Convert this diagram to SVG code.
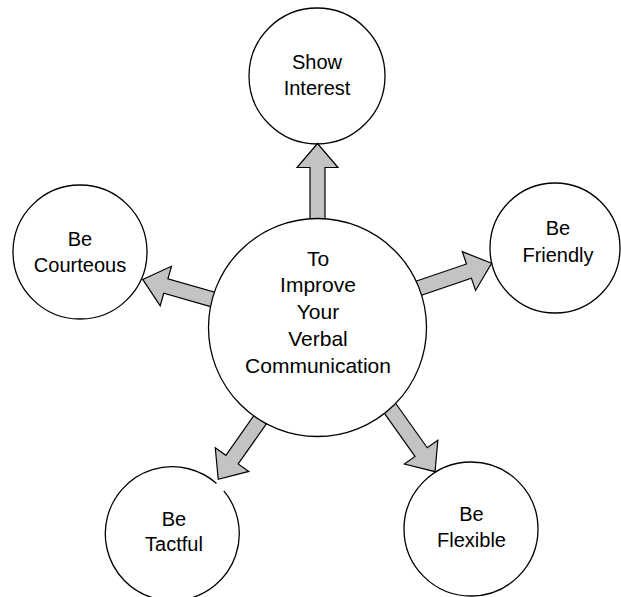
<svg xmlns="http://www.w3.org/2000/svg" width="621" height="597" viewBox="0 0 621 597">
<style>
.node{fill:#ffffff;stroke:#000000;stroke-width:1.3}
.arc{fill:none;stroke:#000000;stroke-width:1.3}
.arrow{fill:#c3c3c3;stroke:#000000;stroke-width:1.2;stroke-linejoin:miter}
.t{font-family:"Liberation Sans",Arial,sans-serif;font-size:20px;fill:#000000;text-anchor:middle}
.tc{font-family:"Liberation Sans",Arial,sans-serif;font-size:21px;fill:#000000;text-anchor:middle}
</style>
<rect width="621" height="597" fill="#ffffff"/>
<g id="show-interest">
<circle class="node" cx="317" cy="76" r="68"/>
<text class="t" x="317" y="68.5">Show</text>
<text class="t" x="317" y="94.5">Interest</text>
</g>
<g id="be-courteous">
<circle class="node" cx="80" cy="252" r="67"/>
<text class="t" x="80" y="245.5">Be</text>
<text class="t" x="80" y="271.5">Courteous</text>
</g>
<g id="be-friendly">
<circle class="node" cx="555" cy="248" r="65"/>
<text class="t" x="558" y="235">Be</text>
<text class="t" x="558" y="261.5">Friendly</text>
</g>
<g id="be-tactful">
<path class="arc" d="M 223.8 490.9 A 67 67 0 1 1 216.5 483.4"/>
<text class="t" x="174" y="525.5">Be</text>
<text class="t" x="174" y="551">Tactful</text>
</g>
<g id="be-flexible">
<circle class="node" cx="471" cy="529" r="67"/>
<text class="t" x="471.5" y="521">Be</text>
<text class="t" x="471.5" y="547">Flexible</text>
</g>
<g id="connectors">
<polygon class="arrow" transform="translate(317.5,224) rotate(-90)" points="0,-7.5 56.5,-7.5 56.5,-20.5 80.5,0 56.5,20.5 56.5,7.5 0,7.5"/>
<polygon class="arrow" transform="translate(218.8,301.2) rotate(196)" points="0,-7.5 55.1,-7.5 55.1,-20.5 79.1,0 55.1,20.5 55.1,7.5 0,7.5"/>
<polygon class="arrow" transform="translate(416.8,288.9) rotate(-18.9)" points="0,-7.5 55.1,-7.5 55.1,-20.5 79.1,0 55.1,20.5 55.1,7.5 0,7.5"/>
<polygon class="arrow" transform="translate(265.1,412.6) rotate(125.1)" points="0,-7.5 57.5,-7.5 57.5,-20.5 81.5,0 57.5,20.5 57.5,7.5 0,7.5"/>
<polygon class="arrow" transform="translate(387,404.1) rotate(54.6)" points="0,-7.5 58.9,-7.5 58.9,-20.5 82.9,0 58.9,20.5 58.9,7.5 0,7.5"/>
</g>
<g id="center">
<circle class="node" cx="317.5" cy="327.5" r="109"/>
<text class="tc" x="318" y="266">To</text>
<text class="tc" x="318" y="292">Improve</text>
<text class="tc" x="318" y="319">Your</text>
<text class="tc" x="318" y="346">Verbal</text>
<text class="tc" x="318" y="372.5">Communication</text>
</g>
</svg>
